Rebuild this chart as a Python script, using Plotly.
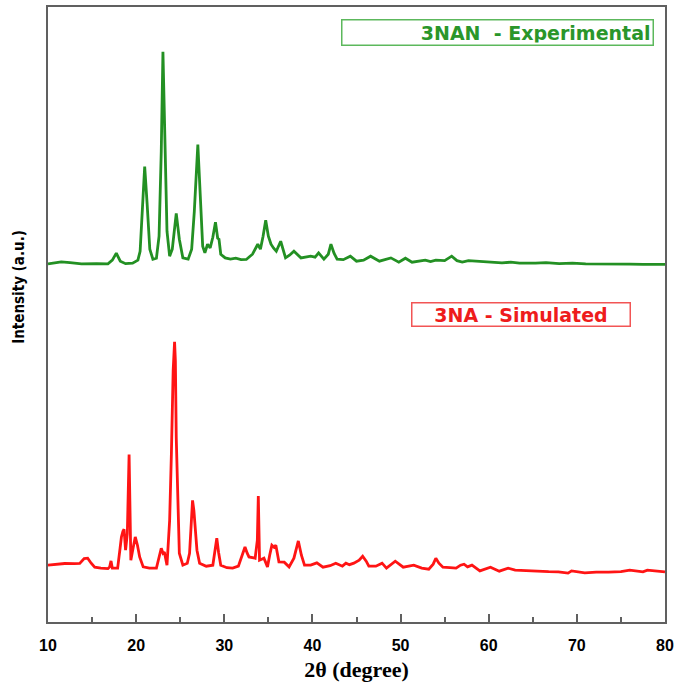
import plotly.graph_objects as go

# 2-theta (degree) and intensity (a.u.)
exp_two_theta = [10.0, 11.5, 12.5, 13.8, 15.5, 16.8, 17.3, 17.75, 18.2, 18.8, 19.6, 20.2, 20.45, 20.7, 20.97,
                 21.25, 21.55, 21.9, 22.3, 22.6, 22.85, 23.04, 23.25, 23.5, 23.8, 24.1, 24.55, 24.9, 25.3,
                 25.9, 26.3, 26.6, 27.0, 27.3, 27.55, 27.8, 28.1, 28.4, 28.7, 29.0, 29.25, 29.4, 29.6,
                 30.1, 30.7, 31.3, 31.9, 32.5, 33.2, 33.8, 34.1, 34.4, 34.7, 35.0, 35.3, 35.6, 35.9,
                 36.4, 36.95, 37.4, 37.9, 38.7, 39.3, 39.8, 40.3, 40.7, 41.3, 41.8, 42.1, 42.45, 42.8,
                 43.5, 44.3, 45.0, 45.8, 46.6, 47.6, 48.9, 49.8, 50.55, 51.3, 52.0, 52.8, 53.4, 54.0,
                 55.0, 55.8, 56.4, 57.0, 57.7, 58.5, 59.2, 60.0, 61.5, 62.5, 63.5, 65.3, 66.5, 68.0,
                 69.5, 71.0, 72.8, 74.5, 76.0, 77.5, 79.0, 80.0]
exp_intensity = [359.3, 361.3, 360.5, 359.3, 359.5, 359.3, 363, 370, 362, 359.5, 360, 363, 372, 419, 457,
                 419, 374, 364, 365, 387, 472, 572, 472, 392, 367, 374, 410, 384, 365.3,
                 364, 374, 412, 479, 422, 377, 370.3, 379, 375.3, 386, 401, 385, 384, 369,
                 365.3, 364, 365, 363.5, 363.7, 369, 379, 374, 387, 403, 387, 379, 375, 372,
                 382, 365.3, 368, 372, 365.3, 366.5, 367, 366, 370.3, 364, 369, 379, 370, 364,
                 363.5, 367, 362, 363, 367, 362, 365.3, 361, 365, 361, 362, 363, 361.5, 363,
                 362.5, 367, 362.5, 361, 362.5, 362, 362, 361.5, 360.3, 361, 360, 360, 360.5, 359.5,
                 360, 359.3, 359.3, 359.7, 359, 358.7, 359, 358.7]

sim_two_theta = [10.0, 11.0, 11.9, 13.0, 13.6, 14.1, 14.5, 14.9, 15.3, 16.0, 16.8, 17.0, 17.15, 17.3, 17.9,
                 18.15, 18.33, 18.5, 18.63, 18.8, 19.0, 19.2, 19.4, 19.65, 19.9, 20.15, 20.4, 20.8, 21.5,
                 22.3, 22.6, 22.85, 23.05, 23.2, 23.5, 23.8, 24.0, 24.2, 24.36, 24.45, 24.55, 24.7, 24.9,
                 25.3, 25.8, 26.06, 26.25, 26.4, 26.55, 26.7, 26.9, 27.2, 27.95, 28.7, 28.95, 29.15, 29.35,
                 29.6, 30.3, 30.95, 31.6, 32.1, 32.35, 32.6, 32.8, 33.5, 33.75, 33.86, 33.95, 34.0, 34.5,
                 34.9, 35.15, 35.4, 35.65, 35.85, 36.2, 36.8, 37.35, 37.9, 38.4, 38.75, 39.1, 39.8, 40.5,
                 41.2, 42.0, 42.65, 43.4, 43.8, 44.2, 44.7, 45.3, 45.7, 46.1, 46.4, 47.2, 47.9, 48.4,
                 49.4, 50.3, 51.5, 52.4, 53.2, 53.7, 54.0, 54.35, 54.8, 55.6, 56.3, 56.8, 57.2, 57.6,
                 58.1, 59.0, 60.2, 61.2, 62.2, 63.0, 64.1, 65.5, 66.8, 67.9, 69.0, 69.4, 70.9, 72.2,
                 73.6, 75.0, 76.0, 77.5, 78.0, 79.4, 80.0]
sim_intensity = [57, 58, 58.7, 58.5, 58.7, 63.7, 64, 59, 55, 54, 53.5, 55.3, 61.3, 54, 54,
                 72, 85.3, 91, 93, 72, 89, 168, 62, 74, 85.3, 77, 65.3, 55.3, 54,
                 54, 64, 74, 69, 70.3, 57, 102, 169, 252, 281, 262, 185, 122, 69,
                 57, 59, 69, 102, 122, 112, 95, 72, 59, 56, 57, 72, 84, 70,
                 57, 54.5, 54, 56, 69, 75.3, 69, 65.3, 64, 82, 126.3, 82, 62, 64,
                 55.3, 67, 77, 75, 77, 60.3, 60, 55.3, 64, 81.3, 67, 57, 57, 59.3,
                 55, 56.5, 59, 56, 59, 57.5, 59, 62, 66, 61, 56, 56, 59, 54,
                 61, 55, 57, 54, 53, 58, 64, 59, 55, 54.5, 54, 57, 58, 55.3,
                 57, 51.3, 55, 51, 54, 52, 51.3, 51, 50.5, 50.3, 49, 51.3, 49.3, 50,
                 50, 50.5, 52, 50.3, 52, 50.3, 50.3]

x_ticks = [10, 20, 30, 40, 50, 60, 70, 80]
exp_label = "3NAN  - Experimental"
sim_label = "3NA - Simulated"

GREEN = "#239023"
RED = "#ff1414"
AXIS = "#606060"

fig = go.Figure()
fig.add_trace(go.Scatter(x=exp_two_theta, y=exp_intensity, mode="lines",
                         line=dict(color=GREEN, width=2.8), name=exp_label, hoverinfo="skip"))
fig.add_trace(go.Scatter(x=sim_two_theta, y=sim_intensity, mode="lines",
                         line=dict(color=RED, width=2.8), name=sim_label, hoverinfo="skip"))

fig.update_layout(
    width=679, height=689,
    margin=dict(l=48, r=12, t=5, b=67),
    paper_bgcolor="white", plot_bgcolor="white",
    showlegend=False,
    xaxis=dict(range=[10, 80], tickvals=x_ticks, ticktext=[str(v) for v in x_ticks],
               ticks="inside", ticklen=8, tickwidth=1.5, tickcolor=AXIS,
               minor=dict(dtick=5, tick0=5, ticks="inside", ticklen=5, tickwidth=1.5, tickcolor=AXIS),
               showline=True, linecolor=AXIS, linewidth=1.5, mirror=True,
               showgrid=False, zeroline=False,
               tickfont=dict(family="Liberation Sans, Arial", size=16, color="black", weight="bold"),
               ticklabelstandoff=8,
               title=dict(text="2θ (degree)", standoff=9,
                          font=dict(family="Liberation Serif, Times New Roman", size=22,
                                    color="black", weight="bold"))),
    yaxis=dict(range=[0, 617], showticklabels=False, ticks="",
               showline=True, linecolor=AXIS, linewidth=1.5, mirror=True,
               showgrid=False, zeroline=False),
)

fig.add_annotation(text="Intensity (a.u.)", xref="paper", yref="paper", x=-0.047, y=0.545,
                   xanchor="center", yanchor="middle", textangle=-90, showarrow=False,
                   font=dict(family="DejaVu Sans Condensed, Liberation Sans Narrow, Roboto Condensed",
                             size=15, color="black", weight="bold"))

fig.add_annotation(text=exp_label, xref="paper", yref="paper", x=0.4745, y=0.98,
                   xanchor="left", yanchor="top", showarrow=False, align="right",
                   width=306, height=20, borderpad=2, bordercolor="#5cb85c", borderwidth=1.5,
                   font=dict(family="DejaVu Sans", size=19, color="#2a962a", weight="bold"))
fig.add_annotation(text=sim_label, xref="paper", yref="paper", x=0.5876, y=0.52,
                   xanchor="left", yanchor="top", showarrow=False, align="center",
                   width=213, height=18, borderpad=2, bordercolor="#f25555", borderwidth=1.5,
                   font=dict(family="DejaVu Sans", size=19, color="#ee1c1c", weight="bold"))

fig.write_html("out.html", config={"displayModeBar": False},
               post_script="document.body.style.margin='0px';")
